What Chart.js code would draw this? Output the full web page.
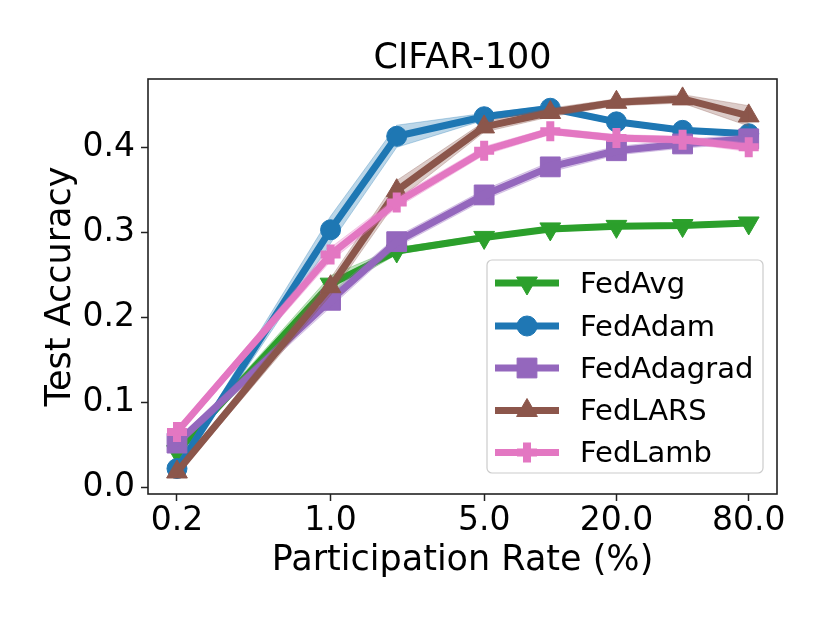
<!DOCTYPE html>
<html>
<head>
<meta charset="utf-8">
<script src="https://cdn.jsdelivr.net/npm/chart.js@4/dist/chart.umd.min.js"></script>
<style>
  html, body { margin: 0; padding: 0; background: #fff; }
  #wrap { width: 830px; height: 623px; }
</style>
</head>
<body>
<div id="wrap"><canvas id="c" width="830" height="623"></canvas></div>
<script>
// ---- data ----
const participationRates = [0.2, 1, 2, 5, 10, 20, 40, 80];
const xTickValues = [0.2, 1, 5, 20, 80];
const yTickValues = [0, 0.1, 0.2, 0.3, 0.4];
const seriesNames = ['FedAvg', 'FedAdam', 'FedAdagrad', 'FedLARS', 'FedLamb'];
const chartTitle = 'CIFAR-100';

const fedAvg     = [0.042, 0.239, 0.278, 0.294, 0.304, 0.307, 0.308, 0.311];
const fedAdam    = [0.022, 0.303, 0.413, 0.436, 0.446, 0.430, 0.420, 0.416];
const fedAdagrad = [0.052, 0.220, 0.289, 0.344, 0.377, 0.396, 0.404, 0.410];
const fedLARS    = [0.018, 0.236, 0.349, 0.424, 0.441, 0.453, 0.457, 0.437];
const fedLamb    = [0.065, 0.274, 0.335, 0.396, 0.419, 0.411, 0.409, 0.400];

const fedAvgStd     = [0.004, 0.010, 0.004, 0.003, 0.003, 0.003, 0.003, 0.003];
const fedAdamStd    = [0.003, 0.016, 0.013, 0.004, 0.003, 0.003, 0.003, 0.003];
const fedAdagradStd = [0.005, 0.008, 0.006, 0.006, 0.006, 0.005, 0.005, 0.005];
const fedLARSStd    = [0.004, 0.010, 0.012, 0.006, 0.005, 0.004, 0.005, 0.012];
const fedLambStd    = [0.004, 0.008, 0.006, 0.005, 0.004, 0.004, 0.004, 0.005];

// ---- styles ----
const seriesValues = [fedAvg, fedAdam, fedAdagrad, fedLARS, fedLamb];
const seriesStd = [fedAvgStd, fedAdamStd, fedAdagradStd, fedLARSStd, fedLambStd];
const colors = ['#2ca02c', '#1f77b4', '#9467bd', '#8c564b', '#e377c2'];
const bandColors = ['rgba(44,160,44,0.3)', 'rgba(31,119,180,0.3)', 'rgba(148,103,189,0.3)', 'rgba(140,86,75,0.3)', 'rgba(227,119,194,0.3)'];
const markers = [
  {style: 'triangle', rot: 180, r: 12, bw: 1},
  {style: 'circle', rot: 0, r: 10, bw: 1},
  {style: 'rect', rot: 0, r: 14, bw: 1},
  {style: 'triangle', rot: 0, r: 12, bw: 1},
  {style: 'cross', rot: 0, r: 10, bw: 8}
];
const FONT = 'DejaVu Sans';
const LW = 7;

const datasets = [];
seriesValues.forEach((vals, i) => {
  const base = 100 - i * 10;
  const pts = vals.map((v, k) => ({x: participationRates[k], y: v}));
  const up = vals.map((v, k) => ({x: participationRates[k], y: v + seriesStd[i][k]}));
  const lo = vals.map((v, k) => ({x: participationRates[k], y: v - seriesStd[i][k]}));
  datasets.push({
    label: seriesNames[i] + ' upper', data: up, borderColor: bandColors[i], borderWidth: 1,
    pointRadius: 0, fill: false, order: base - 1, tension: 0
  });
  datasets.push({
    label: seriesNames[i] + ' lower', data: lo, borderColor: bandColors[i], borderWidth: 1,
    backgroundColor: bandColors[i], pointRadius: 0, fill: '-1', order: base - 1, tension: 0
  });
  datasets.push({
    label: seriesNames[i], data: pts, borderColor: colors[i], backgroundColor: colors[i],
    borderWidth: LW, pointStyle: markers[i].style, pointRotation: markers[i].rot,
    pointRadius: markers[i].r, pointBorderWidth: markers[i].bw,
    pointBorderColor: colors[i], pointBackgroundColor: colors[i],
    fill: false, order: base, tension: 0, borderJoinStyle: 'round', borderCapStyle: 'round'
  });
});

function drawMarker(ctx, m, color, x, y) {
  ctx.save();
  ctx.fillStyle = color; ctx.strokeStyle = color;
  ctx.translate(x, y);
  ctx.rotate(m.rot * Math.PI / 180);
  const r = m.r;
  ctx.beginPath();
  if (m.style === 'circle') {
    ctx.arc(0, 0, r, 0, Math.PI * 2); ctx.fill(); ctx.lineWidth = m.bw; ctx.stroke();
  } else if (m.style === 'rect') {
    const s = Math.SQRT1_2 * r; ctx.rect(-s, -s, 2 * s, 2 * s); ctx.fill(); ctx.lineWidth = m.bw; ctx.stroke();
  } else if (m.style === 'triangle') {
    for (let k = 0; k < 3; k++) {
      const a = -Math.PI / 2 + k * 2 * Math.PI / 3;
      const px = Math.cos(a) * r, py = Math.sin(a) * r;
      if (k === 0) ctx.moveTo(px, py); else ctx.lineTo(px, py);
    }
    ctx.closePath(); ctx.fill(); ctx.lineWidth = m.bw; ctx.stroke();
  } else if (m.style === 'cross') {
    ctx.lineWidth = m.bw;
    ctx.moveTo(0, -r); ctx.lineTo(0, r); ctx.moveTo(-r, 0); ctx.lineTo(r, 0); ctx.stroke();
  }
  ctx.restore();
}

const framePlugin = {
  id: 'frame',
  afterDatasetsDraw(chart) {
    const {ctx, chartArea: a} = chart;
    ctx.save();
    ctx.strokeStyle = '#222'; ctx.lineWidth = 1.6;
    ctx.strokeRect(a.left, a.top, a.right - a.left, a.bottom - a.top);
    // title centred over the axes
    ctx.fillStyle = '#000';
    ctx.font = '35px "' + FONT + '"';
    ctx.textAlign = 'center'; ctx.textBaseline = 'alphabetic';
    ctx.fillText(chartTitle, (a.left + a.right) / 2, 68);
    ctx.restore();
  }
};

const legendPlugin = {
  id: 'innerLegend',
  afterDraw(chart) {
    const ctx = chart.ctx;
    const bx = 487, by = 260, bw = 276, bh = 213, rad = 5;
    ctx.save();
    ctx.beginPath();
    ctx.moveTo(bx + rad, by);
    ctx.arcTo(bx + bw, by, bx + bw, by + bh, rad);
    ctx.arcTo(bx + bw, by + bh, bx, by + bh, rad);
    ctx.arcTo(bx, by + bh, bx, by, rad);
    ctx.arcTo(bx, by, bx + bw, by, rad);
    ctx.closePath();
    ctx.fillStyle = 'rgba(255,255,255,0.8)';
    ctx.fill();
    ctx.strokeStyle = '#cccccc'; ctx.lineWidth = 1.2; ctx.stroke();
    const rowY = [283, 326, 368, 410.5, 452.5];
    seriesNames.forEach((name, i) => {
      const y = rowY[i];
      ctx.beginPath();
      ctx.strokeStyle = colors[i]; ctx.lineWidth = LW; ctx.lineCap = 'butt';
      ctx.moveTo(495, y); ctx.lineTo(559, y); ctx.stroke();
      drawMarker(ctx, markers[i], colors[i], 527, y);
      ctx.fillStyle = '#000';
      ctx.font = '29px "' + FONT + '"';
      ctx.textBaseline = 'middle'; ctx.textAlign = 'left';
      ctx.fillText(name, 580, y + 2);
    });
    ctx.restore();
  }
};

new Chart(document.getElementById('c'), {
  type: 'line',
  data: {datasets},
  plugins: [framePlugin, legendPlugin],
  options: {
    responsive: false,
    animation: false,
    devicePixelRatio: 1,
    layout: {padding: {left: 0, right: 53, top: 79, bottom: 0}},
    plugins: {
      legend: {display: false},
      tooltip: {enabled: false},
      title: {display: false}
    },
    scales: {
      x: {
        type: 'logarithmic', position: 'bottom',
        min: 0.1476, max: 107.6,
        afterBuildTicks(s) { s.ticks = xTickValues.map(v => ({value: v})); },
        afterFit(s) { s.height = 129; },
        ticks: {
          color: '#000', font: {family: FONT, size: 33, lineHeight: 1},
          padding: 4, maxRotation: 0, autoSkip: false,
          callback: v => Number(v).toFixed(1)
        },
        grid: {display: true, drawOnChartArea: false, drawTicks: true, tickLength: 7, tickColor: '#222', tickWidth: 1.5},
        border: {display: false},
        title: {
          display: true, text: 'Participation Rate (%)', color: '#000',
          font: {family: FONT, size: 35, lineHeight: 1.2}, padding: {top: 0, bottom: 40.6}
        }
      },
      y: {
        type: 'linear', position: 'left',
        min: -0.0079, max: 0.4804,
        afterBuildTicks(s) { s.ticks = yTickValues.map(v => ({value: v})); },
        afterFit(s) { s.width = 148; },
        ticks: {
          color: '#000', font: {family: FONT, size: 33, lineHeight: 1},
          padding: 6, autoSkip: false,
          callback: v => Number(v).toFixed(1)
        },
        grid: {display: true, drawOnChartArea: false, drawTicks: true, tickLength: 7, tickColor: '#222', tickWidth: 1.5},
        border: {display: false},
        title: {
          display: true, text: 'Test Accuracy', color: '#000',
          font: {family: FONT, size: 35, lineHeight: 1.2}, padding: {top: 39.7, bottom: 0}
        }
      }
    }
  }
});
</script>
</body>
</html>
